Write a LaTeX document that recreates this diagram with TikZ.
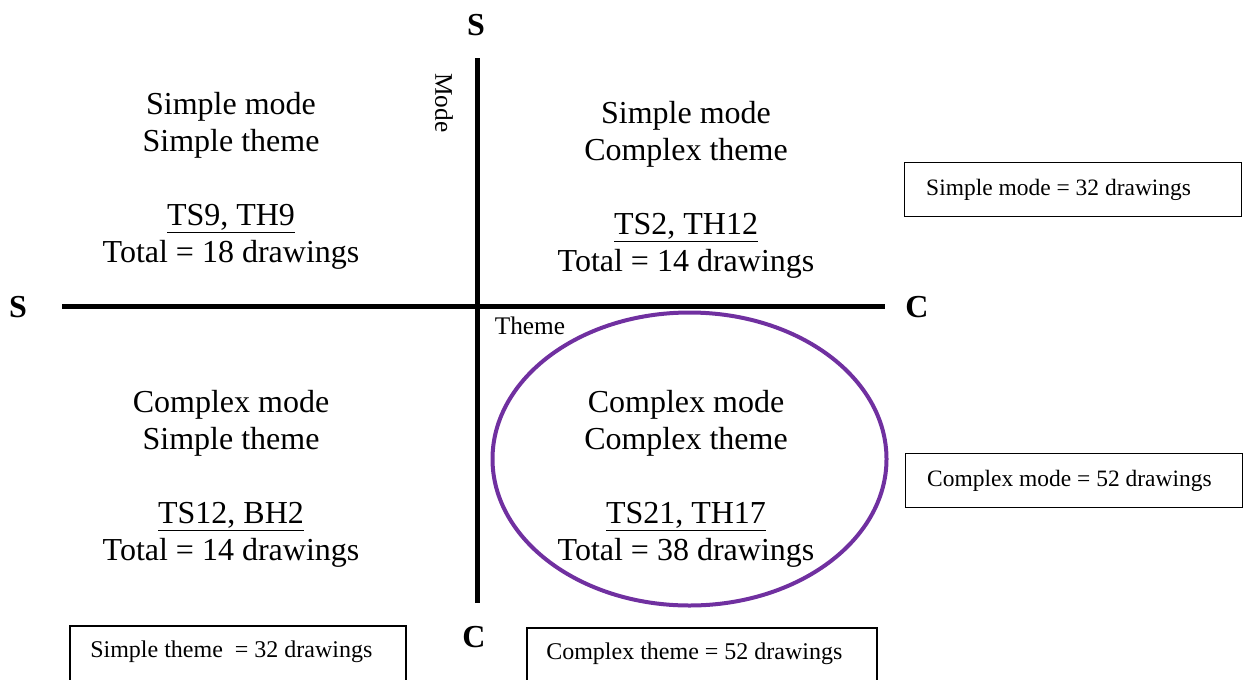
\documentclass[tikz,border=0pt]{standalone}
\usepackage{fontspec}
\setmainfont{Liberation Serif}
\usetikzlibrary{shapes.geometric}
\definecolor{ovalpurple}{HTML}{7030A0}
\begin{document}
\begin{tikzpicture}[x=0.75pt,y=-0.75pt,
  axisline/.style={line width=3.4pt,black},
  quad/.style={align=center,font=\fontsize{24pt}{27.75pt}\selectfont,inner sep=0pt},
  axislbl/.style={font=\fontsize{24pt}{28pt}\selectfont\bfseries,inner sep=0pt},
  smalllbl/.style={font=\fontsize{19pt}{22pt}\selectfont,inner sep=0pt},
  countbox/.style={draw,line width=1.1pt,font=\fontsize{17.6pt}{21pt}\selectfont,inner xsep=16.5pt,inner ysep=0pt,minimum height=40.5pt,anchor=north west},
  boxframe/.style={draw,line width=1.1pt},
  boxtext/.style={font=\fontsize{18pt}{21pt}\selectfont,inner sep=0pt,anchor=west}
]
\useasboundingbox (0,0) rectangle (1248,679);
% axes
\coordinate (vtop) at (477.5,58);
\coordinate (vbot) at (477.5,603);
\coordinate (hleft) at (62,306.5);
\coordinate (hright) at (885,306.5);
\draw[axisline] (vtop) -- (vbot);
\draw[axisline] (hleft) -- (hright);
% axis end labels
\node[axislbl] (stop) at (476,25) {S};
\node[axislbl] (sleft) at (18,307) {S};
\node[axislbl] (cright) at (917,307) {C};
\node[axislbl] (cbot) at (474,637) {C};
\node[smalllbl,rotate=-90] (mode) at (444,103) {Mode};
\node[smalllbl] (theme) at (530,326) {Theme};
% quadrants
\node[quad] (tl) at (231,180.5) {Simple mode\\Simple theme\\[27.75pt]\underline{TS9, TH9}\\Total = 18 drawings};
\node[quad] (tr) at (686,190) {Simple mode\\Complex theme\\[27.75pt]\underline{TS2, TH12}\\Total = 14 drawings};
\node[quad] (bl) at (231,479) {Complex mode\\Simple theme\\[27.75pt]\underline{TS12, BH2}\\Total = 14 drawings};
\node[quad] (br) at (686,479) {Complex mode\\Complex theme\\[27.75pt]\underline{TS21, TH17}\\Total = 38 drawings};
% oval
\node[ellipse,draw=ovalpurple,line width=3pt,minimum width=295.5pt,minimum height=219.75pt,inner sep=0pt] (oval) at (689.5,459) {};
% right boxes
\node[countbox] (smode) at (903.5,162) {\makebox[219.75pt][l]{Simple mode = 32 drawings}};
\node[countbox] (cmode) at (904.5,453) {\makebox[219.75pt][l]{Complex mode = 52 drawings}};
% bottom boxes (cut at bottom edge)
\draw[boxframe] (70,626) rectangle (406,700);
\node[boxtext] (stheme) at (90,652) {Simple theme\ \ = 32 drawings};
\draw[boxframe] (527,628) rectangle (877,700);
\node[boxtext] (ctheme) at (546,654) {Complex theme = 52 drawings};
\end{tikzpicture}
\end{document}
